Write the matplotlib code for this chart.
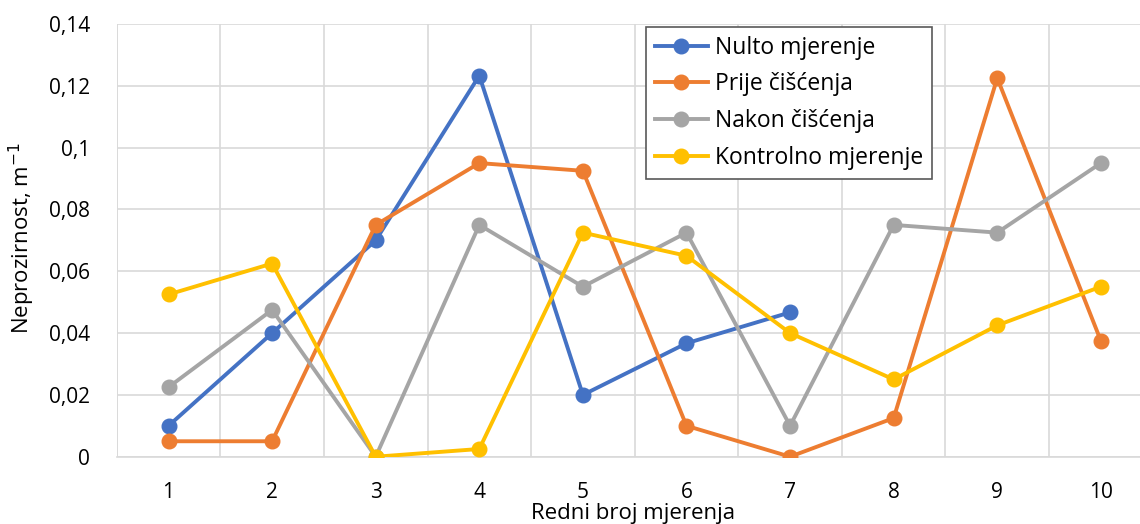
import matplotlib
matplotlib.use("Agg")
import matplotlib.pyplot as plt
import numpy as np
from matplotlib.ticker import FuncFormatter, MultipleLocator

plt.rcParams['font.family'] = ['Open Sans', 'DejaVu Sans']

mjerenja = [1, 2, 3, 4, 5, 6, 7, 8, 9, 10]
nulto = [0.01, 0.04, 0.07, 0.1233, 0.02, 0.0367, 0.0467, np.nan, np.nan, np.nan]
prije = [0.005, 0.005, 0.075, 0.095, 0.0925, 0.01, 0.0, 0.0125, 0.1225, 0.0375]
nakon = [0.0225, 0.0475, 0.0, 0.075, 0.055, 0.0725, 0.01, 0.075, 0.0725, 0.095]
kontrolno = [0.0525, 0.0625, 0.0, 0.0025, 0.0725, 0.065, 0.04, 0.025, 0.0425, 0.055]

serije = [
    ("Nulto mjerenje", nulto, "#4472C4"),
    ("Prije čišćenja", prije, "#ED7D31"),
    ("Nakon čišćenja", nakon, "#A5A5A5"),
    ("Kontrolno mjerenje", kontrolno, "#FFC000"),
]

fig = plt.figure(figsize=(11.4, 5.24), dpi=100)
ax = fig.add_axes([0.1024, 0.1284, 0.9087, 0.8258])

for ime, vrijednosti, boja in serije:
    ax.plot(mjerenja, vrijednosti, color=boja, lw=2.8, marker="o", ms=10.5,
            label=ime, zorder=3)

ax.set_xlim(0.5, 10.5)
ax.set_ylim(0, 0.14)
ax.yaxis.set_major_locator(MultipleLocator(0.02))
ax.set_xticks(mjerenja)
ax.xaxis.set_minor_locator(MultipleLocator(1, offset=0.5))
ax.grid(True, which="minor", axis="x", color="#D9D9D9", lw=1.2)
ax.grid(True, which="major", axis="y", color="#D9D9D9", lw=1.2)
ax.set_axisbelow(True)

def zarez(v, pos):
    s = "%g" % round(v, 4)
    return s.replace(".", ",")

ax.yaxis.set_major_formatter(FuncFormatter(zarez))
ax.tick_params(axis="both", which="both", length=0, labelsize=15, colors="#000000")
ax.tick_params(axis="x", pad=18.5)
ax.tick_params(axis="y", pad=19)

for s in ["top", "right", "left"]:
    ax.spines[s].set_visible(False)
ax.spines["bottom"].set_color("#D9D9D9")
ax.spines["bottom"].set_linewidth(1.2)
ax.axvline(0.5, color="#D9D9D9", lw=1.2, zorder=0)

fig.text(0.555, 0.009, "Redni broj mjerenja", ha="center", va="baseline", fontsize=16)
fig.text(0.006, 0.545, "Neprozirnost, m$^{-1}$", rotation=90, ha="left", va="center",
         fontsize=16)

leg = ax.legend(loc="upper left", bbox_to_anchor=(0.5107, 0.9937), fontsize=16.5,
                frameon=True, fancybox=False, handlelength=2.3, handletextpad=0.3,
                borderpad=0.4, labelspacing=0.55, borderaxespad=0)
leg.get_frame().set_edgecolor("#595959")
leg.get_frame().set_linewidth(1.2)
leg.get_frame().set_alpha(1)

fig.savefig("out.png", dpi=100)
